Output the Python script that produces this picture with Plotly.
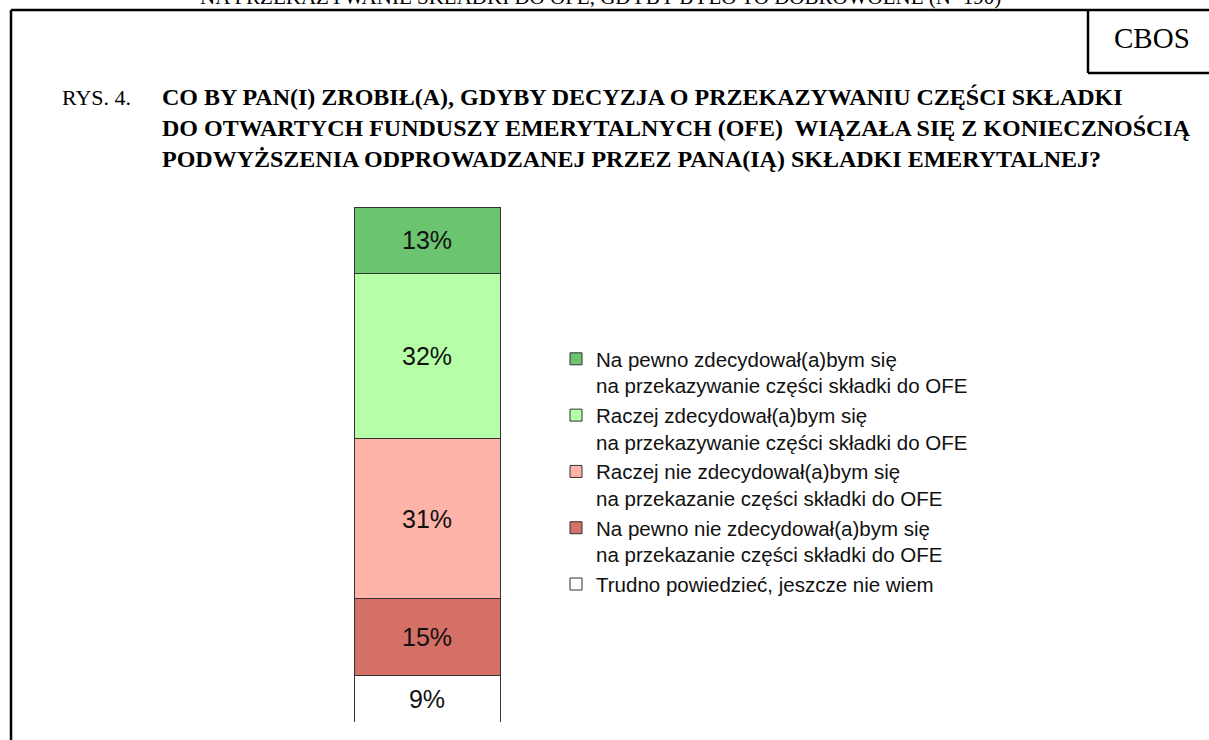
import plotly.graph_objects as go

# survey answers, listed bottom-to-top as they are stacked
answers = [
    "Trudno powiedzieć, jeszcze nie wiem",
    "Na pewno nie zdecydował(a)bym się<br>na przekazanie części składki do OFE",
    "Raczej nie zdecydował(a)bym się<br>na przekazanie części składki do OFE",
    "Raczej zdecydował(a)bym się<br>na przekazywanie części składki do OFE",
    "Na pewno zdecydował(a)bym się<br>na przekazywanie części składki do OFE",
]
shares = [9, 15, 31, 32, 13]
colors = ["#FFFFFF", "#D47065", "#FEB3A9", "#B6FFA8", "#6BC46F"]

category = [""]

title_prefix = "RYS. 4."
title_lines = [
    "CO BY PAN(I) ZROBIŁ(A), GDYBY DECYZJA O PRZEKAZYWANIU CZĘŚCI SKŁADKI",
    "DO OTWARTYCH FUNDUSZY EMERYTALNYCH (OFE)  WIĄZAŁA SIĘ Z KONIECZNOŚCIĄ",
    "PODWYŻSZENIA ODPROWADZANEJ PRZEZ PANA(IĄ) SKŁADKI EMERYTALNEJ?",
]
cut_header = "NA PRZEKAZYWANIE SKŁADKI DO OFE, GDYBY BYŁO TO DOBROWOLNE (N=190)"

W, H = 1209, 740


def px_x(x):
    return x / W


def px_y(y):
    return (H - y) / H


fig = go.Figure()
for name, val, col in zip(answers, shares, colors):
    fig.add_trace(go.Bar(
        x=category, y=[val], name=name,
        marker=dict(color=col, line=dict(color="#333333", width=1)),
        text=[f"{val}%"], textposition="inside", insidetextanchor="middle",
        textangle=0, constraintext="none",
        textfont=dict(family="Arial, Liberation Sans", size=25, color="#111111"),
    ))

serif = "Times New Roman, Liberation Serif, serif"
annotations = [
    dict(text=cut_header, x=px_x(600), y=px_y(-3), xref="paper", yref="paper",
         xanchor="center", yanchor="middle", showarrow=False,
         font=dict(family=serif, size=21, color="#000000")),
    dict(text="CBOS", x=px_x(1152), y=px_y(38), xref="paper", yref="paper",
         xanchor="center", yanchor="middle", showarrow=False,
         font=dict(family=serif, size=29, color="#000000")),
    dict(text=title_prefix, x=px_x(60), y=px_y(97), xref="paper", yref="paper",
         xanchor="left", yanchor="middle", showarrow=False,
         font=dict(family=serif, size=22, color="#000000")),
]
for i, line in enumerate(title_lines):
    annotations.append(dict(
        text=f"<b>{line}</b>", x=px_x(160), y=px_y(97 + 31 * i),
        xref="paper", yref="paper", xanchor="left", yanchor="middle",
        showarrow=False, font=dict(family=serif, size=24, color="#000000"),
    ))

frame = dict(color="#000000", width=2.5)
shapes = [
    dict(type="line", xref="paper", yref="paper", x0=px_x(11), x1=px_x(11),
         y0=0, y1=px_y(10), line=frame),
    dict(type="line", xref="paper", yref="paper", x0=px_x(11), x1=1,
         y0=px_y(10), y1=px_y(10), line=frame),
    dict(type="line", xref="paper", yref="paper", x0=px_x(1088), x1=px_x(1088),
         y0=px_y(10), y1=px_y(73), line=frame),
    dict(type="line", xref="paper", yref="paper", x0=px_x(1088), x1=1,
         y0=px_y(73), y1=px_y(73), line=frame),
]

# plot area a bit wider than the bar so its outline is not clipped
fig.update_layout(
    width=W, height=H,
    margin=dict(l=0, r=0, t=0, b=0),
    paper_bgcolor="white", plot_bgcolor="white",
    barmode="stack", bargap=8 / 154,
    showlegend=True,
    legend=dict(
        x=px_x(556), y=px_y(339), xanchor="left", yanchor="top",
        traceorder="reversed", valign="top",
        font=dict(family="Arial, Liberation Sans", size=20.5, color="#111111"),
        bgcolor="rgba(0,0,0,0)",
    ),
    xaxis=dict(domain=[px_x(350), px_x(504)], visible=False, fixedrange=True),
    yaxis=dict(domain=[px_y(722), px_y(207)], range=[0, 100], visible=False),
    annotations=annotations,
    shapes=shapes,
)

# the page's default 8px body margin would shift the whole picture
fig.write_html("out.html", config={"displayModeBar": False},
               post_script="document.body.style.margin='0';")
